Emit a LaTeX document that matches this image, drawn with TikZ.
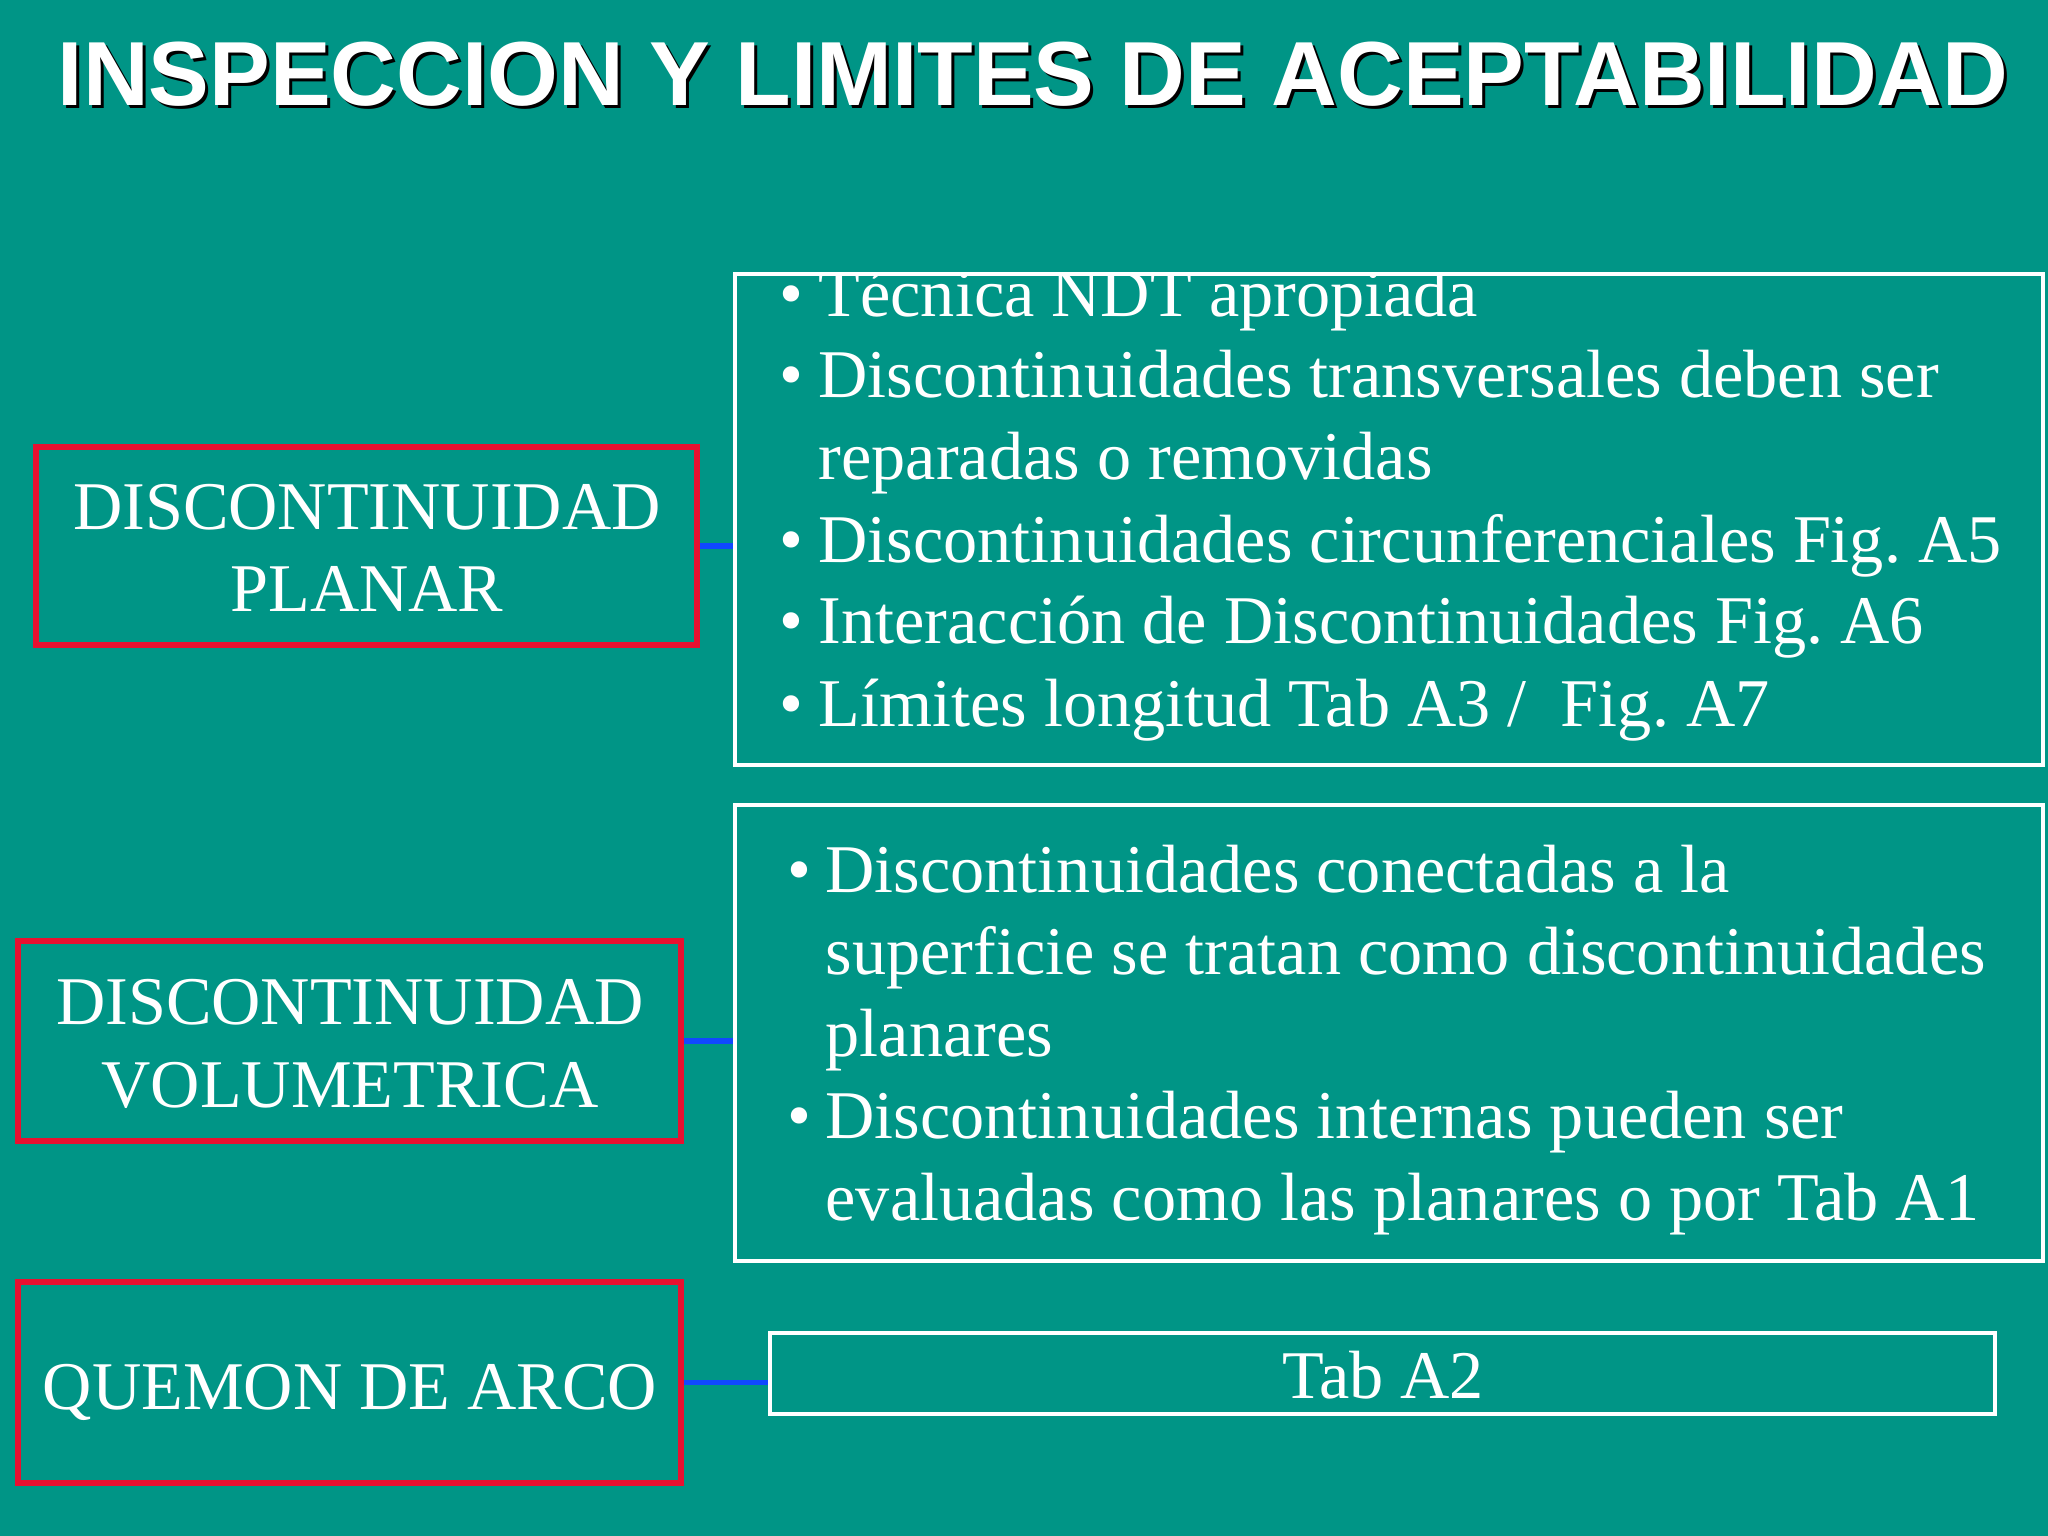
\documentclass[tikz,border=0pt]{standalone}
\usepackage{fontspec}
\setmainfont{Liberation Serif}
\newfontfamily\titlefont{Liberation Sans}
\definecolor{bg}{RGB}{0,149,134}
\definecolor{redline}{RGB}{232,16,48}
\definecolor{blueline}{RGB}{16,72,255}
\frenchspacing
\begin{document}
\begin{tikzpicture}[x=0.3515625pt,y=-0.3515625pt,
  redbox/.style={draw=redline, line width=2.1pt, inner sep=0pt},
  whitebox/.style={draw=white, line width=1.4pt, inner sep=0pt},
  link/.style={draw=blueline, line width=1.8pt},
  txt/.style={anchor=base west, inner sep=0pt, text=white, font=\fontsize{24}{29}\selectfont},
  ctxt/.style={anchor=base, inner sep=0pt, text=white, font=\fontsize{24}{29}\selectfont},
  ttl/.style={anchor=base, inner sep=0pt, font=\titlefont\bfseries\fontsize{32}{38}\selectfont}]
\fill[bg] (0,0) rectangle (2048,1536);
\useasboundingbox (0,0) rectangle (2048,1536);
% title
\node[ttl, text=black] (tshadow) at (1036,109) {INSPECCION Y LIMITES DE ACEPTABILIDAD};
\node[ttl, text=white] (title) at (1033,106) {INSPECCION Y LIMITES DE ACEPTABILIDAD};
% left boxes
\node[redbox, minimum width={661*0.3515625pt}, minimum height={198*0.3515625pt}] (r1) at (366.5,546) {};
\node[redbox, minimum width={663*0.3515625pt}, minimum height={200*0.3515625pt}] (r2) at (349.5,1041) {};
\node[redbox, minimum width={663*0.3515625pt}, minimum height={201*0.3515625pt}] (r3) at (349.5,1382.5) {};
\node[ctxt] (r1a) at (367,530) {DISCONTINUIDAD};
\node[ctxt] (r1b) at (367,612) {PLANAR};
\node[ctxt] (r2a) at (350,1024) {DISCONTINUIDAD};
\node[ctxt] (r2b) at (350,1107) {VOLUMETRICA};
\node[ctxt] (r3a) at (350,1409) {QUEMON DE ARCO};
% right boxes
\node[whitebox, minimum width={1308*0.3515625pt}, minimum height={491*0.3515625pt}] (w1) at (1389,519.5) {};
\node[whitebox, minimum width={1308*0.3515625pt}, minimum height={456*0.3515625pt}] (w2) at (1389,1033) {};
\node[whitebox, minimum width={1225*0.3515625pt}, minimum height={81*0.3515625pt}] (w3) at (1382.5,1373.5) {};
% box 1 text, clipped at the box top
\begin{scope}
\clip (735,276) rectangle (2046,765);
\node[txt] (b11) at (779,317) {•};
\node[txt] (t11) at (818,317) {Técnica NDT apropiada};
\node[txt] (b12) at (779,398) {•};
\node[txt] (t12) at (818,398) {Discontinuidades transversales deben ser};
\node[txt] (t12b) at (818,480) {reparadas o removidas};
\node[txt] (b13) at (779,562) {•};
\node[txt] (t13) at (818,562) {Discontinuidades circunferenciales Fig. A5};
\node[txt] (b14) at (779,644) {•};
\node[txt] (t14) at (818,644) {Interacción de Discontinuidades Fig. A6};
\node[txt] (b15) at (779,726) {•};
\node[txt] (t15) at (818,726) {Límites longitud Tab A3 /\ \ Fig. A7};
\end{scope}
% box 2 text
\node[txt] (b21) at (787,892) {•};
\node[txt] (t21) at (825,892) {Discontinuidades conectadas a la};
\node[txt] (t21b) at (825,974) {superficie se tratan como discontinuidades};
\node[txt] (t21c) at (825,1056) {planares};
\node[txt] (b22) at (787,1138) {•};
\node[txt] (t22) at (825,1138) {Discontinuidades internas pueden ser};
\node[txt] (t22b) at (825,1220) {evaluadas como las planares o por Tab A1};
% box 3 text
\node[ctxt] (t31) at (1383,1398) {Tab A2};
% connectors
\draw[link] (r1.east) -- (r1.east -| w1.west);
\draw[link] (r2.east) -- (r2.east -| w2.west);
\draw[link] (r3.east) -- (r3.east -| w3.west);
\end{tikzpicture}
\end{document}
